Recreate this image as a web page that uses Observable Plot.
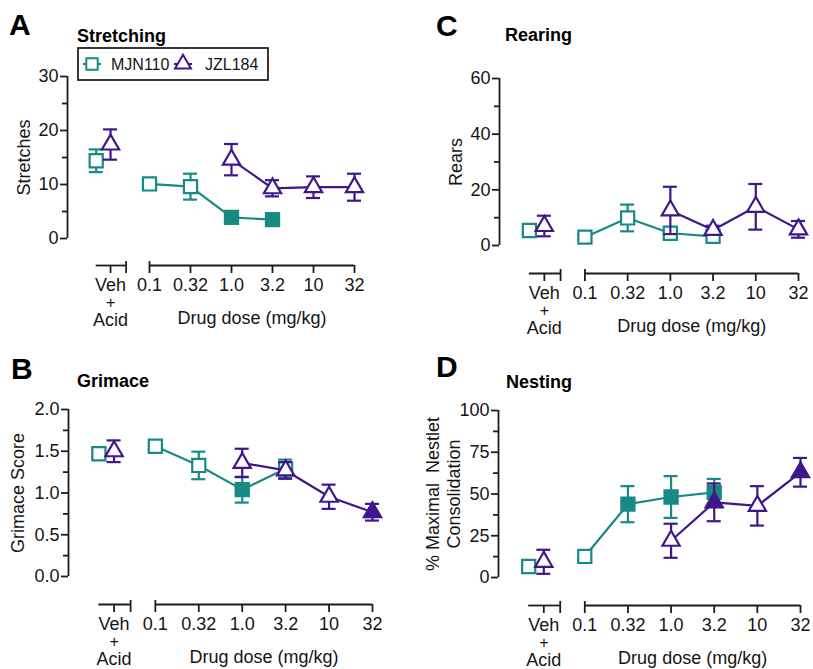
<!DOCTYPE html>
<html>
<head>
<meta charset="utf-8">
<script src="https://cdn.jsdelivr.net/npm/d3@7"></script>
<script src="https://cdn.jsdelivr.net/npm/@observablehq/plot@0.6"></script>
<style>
  body { margin: 0; background: #fff; }
  #wrap { position: relative; width: 813px; height: 669px; overflow: hidden; background: #fff;
          font-family: "Liberation Sans", Arial, sans-serif; }
  .panel { position: absolute; }
  .panel svg { overflow: visible; }
  #overlay { position: absolute; left: 0; top: 0; pointer-events: none; }
</style>
</head>
<body>
<div id="wrap"></div>
<script>
// ---------- data ----------
const groups = ["Veh", "0.1", "0.32", "1.0", "3.2", "10", "32"];
const drugNames = ["MJN110", "JZL184"];
const drugColors = ["#178a83", "#3f178c"];
const drugSymbols = ["square", "triangle"];

// A: Stretching
const stretchMJNMean = [14.4, 10.1, 9.6, 3.9, 3.5, null, null];
const stretchMJNSem  = [2.1, 0.8, 2.4, 0.6, 0.5, null, null];
const stretchMJNSig  = [0, 0, 0, 1, 1, 0, 0];
const stretchJZLMean = [17.4, null, null, 14.6, 9.3, 9.5, 9.5];
const stretchJZLSem  = [2.8, null, null, 2.9, 1.5, 2.0, 2.5];
const stretchJZLSig  = [0, 0, 0, 0, 0, 0, 0];
const stretchTicks = [0, 10, 20, 30];
const stretchMinor = [5, 15, 25];

// B: Grimace
const grimaceMJNMean = [1.47, 1.56, 1.33, 1.04, 1.29, null, null];
const grimaceMJNSem  = [0.05, 0.05, 0.165, 0.155, 0.11, null, null];
const grimaceMJNSig  = [0, 0, 0, 1, 0, 0, 0];
const grimaceJZLMean = [1.50, null, null, 1.36, 1.27, 0.955, 0.77];
const grimaceJZLSem  = [0.13, null, null, 0.17, 0.1, 0.145, 0.1];
const grimaceJZLSig  = [0, 0, 0, 0, 0, 0, 1];
const grimaceTicks = [0, 0.5, 1.0, 1.5, 2.0];
const grimaceMinor = [0.25, 0.75, 1.25, 1.75];

// C: Rearing
const rearMJNMean = [5.4, 3.0, 9.9, 4.4, 3.3, null, null];
const rearMJNSem  = [1.2, 1.0, 4.8, 2.0, 1.5, null, null];
const rearMJNSig  = [0, 0, 0, 0, 0, 0, 0];
const rearJZLMean = [7.0, null, null, 12.6, 5.6, 13.9, 5.8];
const rearJZLSem  = [3.7, null, null, 8.5, 1.5, 8.2, 3.0];
const rearJZLSig  = [0, 0, 0, 0, 0, 0, 0];
const rearTicks = [0, 20, 40, 60];
const rearMinor = [10, 30, 50];

// D: Nesting
const nestMJNMean = [6.6, 12.6, 43.9, 48.2, 51.0, null, null];
const nestMJNSem  = [2.0, 2.0, 10.8, 12.5, 8.0, null, null];
const nestMJNSig  = [0, 0, 1, 1, 1, 0, 0];
const nestJZLMean = [9.4, null, null, 22.0, 45.0, 42.9, 63.0];
const nestJZLSem  = [7.2, null, null, 10.2, 11.3, 11.8, 8.6];
const nestJZLSig  = [0, 0, 0, 0, 1, 0, 1];
const nestTicks = [0, 25, 50, 75, 100];
const nestMinor = [12.5, 37.5, 62.5, 87.5];

// ---------- layout (categorical positions) ----------
const vehTickPos = -0.95;
const vehSpan = [-1.3, -0.57];
const vehShift = [-0.35, 0];
const xDomain = [-2, groups.length - 2];
const axisColor = "#1c1c1c";
const textColor = "#151515";
const font = "'Liberation Sans', Arial, Helvetica, sans-serif";

function makeRows(means, sems, sigs, d) {
  return groups.map((g, i) => ({
    drug: drugNames[d], group: g,
    pos: i === 0 ? vehTickPos + vehShift[d] : i - 1,
    mean: means[i], sem: sems[i], sig: !!sigs[i], veh: i === 0
  })).filter(r => r.mean != null);
}

function seriesMarks(rows, d) {
  const color = drugColors[d];
  const sym = drugSymbols[d];
  const r = d === 0 ? 7.4 : 6.4;
  const doseRows = rows.filter(r => !r.veh);
  return [
    Plot.line(doseRows, {x: "pos", y: "mean", stroke: color, strokeWidth: 2.2}),
    Plot.ruleX(rows, {x: "pos", y1: r => r.mean - r.sem, y2: r => r.mean + r.sem, stroke: color, strokeWidth: 2.2}),
    Plot.ruleY(rows, {x1: "pos", x2: "pos", y: r => r.mean - r.sem, insetLeft: -7, insetRight: -7, stroke: color, strokeWidth: 2.2}),
    Plot.ruleY(rows, {x1: "pos", x2: "pos", y: r => r.mean + r.sem, insetLeft: -7, insetRight: -7, stroke: color, strokeWidth: 2.2}),
    Plot.dot(rows.filter(r => !r.sig), {x: "pos", y: "mean", symbol: sym, r, stroke: color, fill: "white", strokeWidth: 2.2}),
    Plot.dot(rows.filter(r => r.sig), {x: "pos", y: "mean", symbol: sym, r, stroke: color, fill: color, strokeWidth: 2.2})
  ];
}

function drawPanel(cfg) {
  const mjn = makeRows(cfg.mjnMean, cfg.mjnSem, cfg.mjnSig, 0);
  const jzl = makeRows(cfg.jzlMean, cfg.jzlSem, cfg.jzlSig, 1);
  const doseTicks = groups.slice(1).map((g, i) => ({label: g, pos: i}));
  const segs = [{x1: vehSpan[0], x2: vehSpan[1]}, {x1: 0, x2: groups.length - 2}];
  const downTicks = [vehTickPos, vehSpan[1], ...doseTicks.map(t => t.pos)];
  const upTicks = [vehSpan[1], 0];
  const yMax = cfg.ticks[cfg.ticks.length - 1];
  const ady = cfg.axisDy;

  const svg = Plot.plot({
    width: cfg.width, height: cfg.height,
    marginLeft: cfg.ml, marginRight: cfg.mr, marginTop: cfg.mt, marginBottom: cfg.mb,
    style: {fontFamily: font, fontSize: "18px", color: textColor, background: "transparent", overflow: "visible"},
    x: {domain: xDomain, axis: null},
    y: {domain: [0, yMax]},
    marks: [
      // y axis
      Plot.ruleX([xDomain[0]], {y1: 0, y2: yMax, stroke: axisColor, strokeWidth: 1.8}),
      Plot.axisY(cfg.ticks, {tickSize: 7, tickPadding: 2, tickFormat: cfg.fmt, fontSize: 18, label: null, stroke: axisColor, strokeWidth: 1.8, fill: textColor}),
      Plot.axisY(cfg.minor, {tickSize: 5, tickFormat: () => "", label: null, stroke: axisColor, strokeWidth: 1.8}),
      Plot.text([cfg.ylabel], {frameAnchor: "left", rotate: -90, dx: cfg.labelDx, textAnchor: "middle", lineAnchor: "middle", fontSize: 18, lineHeight: 1.2, fill: textColor}),
      // x axis (offset below the plot)
      Plot.ruleY(segs, {x1: "x1", x2: "x2", y: 0, dy: ady, stroke: axisColor, strokeWidth: 1.8}),
      Plot.ruleX(downTicks, {y1: 0, y2: 0, dy: ady, insetBottom: -8, stroke: axisColor, strokeWidth: 1.8}),
      Plot.ruleX(upTicks, {y1: 0, y2: 0, dy: ady, insetTop: -4, stroke: axisColor, strokeWidth: 1.8}),
      Plot.text(doseTicks, {x: "pos", y: 0, text: "label", dy: ady + 20, fontSize: 18, fill: textColor}),
      Plot.text([groups[0]], {x: vehTickPos, y: 0, dy: ady + 20, fontSize: 18, fill: textColor}),
      Plot.text(["+"], {x: vehTickPos, y: 0, dy: ady + 37, fontSize: 16, fill: textColor}),
      Plot.text(["Acid"], {x: vehTickPos, y: 0, dy: ady + 55, fontSize: 18, fill: textColor}),
      Plot.text(["Drug dose (mg/kg)"], {x: (groups.length - 2) / 2, y: 0, dy: ady + 53, fontSize: 18, fill: textColor}),
      // data
      ...seriesMarks(mjn, 0),
      ...seriesMarks(jzl, 1)
    ]
  });
  const div = document.createElement("div");
  div.className = "panel";
  div.style.left = cfg.left + "px";
  div.style.top = cfg.top + "px";
  div.appendChild(svg);
  document.getElementById("wrap").appendChild(div);
}

const intFmt = d3.format("d");
drawPanel({left: 0, top: 0, width: 406, height: 335, ml: 67, mr: 52, mt: 76, mb: 97, axisDy: 27, labelDx: -44,
  mjnMean: stretchMJNMean, mjnSem: stretchMJNSem, mjnSig: stretchMJNSig,
  jzlMean: stretchJZLMean, jzlSem: stretchJZLSem, jzlSig: stretchJZLSig,
  ticks: stretchTicks, minor: stretchMinor, fmt: intFmt, ylabel: "Stretches"});
drawPanel({left: 406, top: 0, width: 407, height: 335, ml: 93, mr: 15, mt: 78, mb: 90, axisDy: 28, labelDx: -44,
  mjnMean: rearMJNMean, mjnSem: rearMJNSem, mjnSig: rearMJNSig,
  jzlMean: rearJZLMean, jzlSem: rearJZLSem, jzlSig: rearJZLSig,
  ticks: rearTicks, minor: rearMinor, fmt: intFmt, ylabel: "Rears"});
drawPanel({left: 0, top: 335, width: 406, height: 334, ml: 68, mr: 34, mt: 74, mb: 93, axisDy: 28, labelDx: -51,
  mjnMean: grimaceMJNMean, mjnSem: grimaceMJNSem, mjnSig: grimaceMJNSig,
  jzlMean: grimaceJZLMean, jzlSem: grimaceJZLSem, jzlSig: grimaceJZLSig,
  ticks: grimaceTicks, minor: grimaceMinor, fmt: d3.format(".1f"), ylabel: "Grimace Score"});
drawPanel({left: 406, top: 335, width: 407, height: 334, ml: 92, mr: 13, mt: 75, mb: 92, axisDy: 28, labelDx: -56,
  mjnMean: nestMJNMean, mjnSem: nestMJNSem, mjnSig: nestMJNSig,
  jzlMean: nestJZLMean, jzlSem: nestJZLSem, jzlSig: nestJZLSig,
  ticks: nestTicks, minor: nestMinor, fmt: intFmt, ylabel: "% Maximal  Nestlet\nConsolidation"});

// ---------- panel letters, titles, legend ----------
const panelLetters = ["A", "C", "B", "D"];
const panelTitles = ["Stretching", "Rearing", "Grimace", "Nesting"];
const letterPos = [[9, 35], [436, 36], [11, 379], [436, 377]];
const titlePos = [[77, 42], [505, 41], [77, 387], [506, 388]];

const ov = d3.select("#wrap").append("svg").attr("id", "overlay")
  .attr("width", 813).attr("height", 669)
  .style("font-family", font);
panelLetters.forEach((t, i) => {
  ov.append("text").attr("x", letterPos[i][0]).attr("y", letterPos[i][1])
    .attr("font-size", 30).attr("font-weight", "bold").attr("fill", "#000").text(t);
  ov.append("text").attr("x", titlePos[i][0]).attr("y", titlePos[i][1])
    .attr("font-size", 18).attr("font-weight", "bold").attr("fill", "#000").text(panelTitles[i]);
});
// legend
const lg = ov.append("g");
lg.append("rect").attr("x", 78).attr("y", 48).attr("width", 190).attr("height", 32)
  .attr("fill", "white").attr("stroke", "#222").attr("stroke-width", 1.8);
const legendItems = [{x: 92, tx: 111}, {x: 183, tx: 205}];
legendItems.forEach((it, d) => {
  lg.append("line").attr("x1", it.x - 9).attr("x2", it.x + 9).attr("y1", 64).attr("y2", 64)
    .attr("stroke", drugColors[d]).attr("stroke-width", 2);
  const sym = d3.symbol(d === 0 ? d3.symbolSquare : d3.symbolTriangle, d === 0 ? 130 : 110);
  lg.append("path").attr("d", sym()).attr("transform", `translate(${it.x},${64})`)
    .attr("fill", "white").attr("stroke", drugColors[d]).attr("stroke-width", 2);
  lg.append("text").attr("x", it.tx).attr("y", 70).attr("font-size", 16).attr("fill", textColor).text(drugNames[d]);
});
</script>
</body>
</html>
